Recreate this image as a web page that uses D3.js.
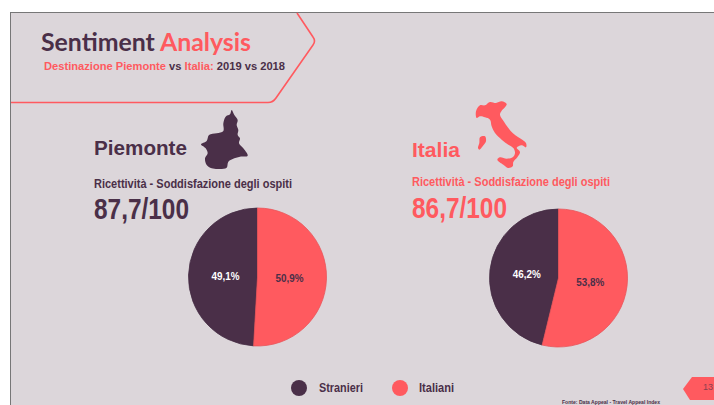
<!DOCTYPE html>
<html>
<head>
<meta charset="utf-8">
<script src="https://cdn.jsdelivr.net/npm/d3@7"></script>
<style>
  html, body { margin: 0; padding: 0; background: #fff; overflow: hidden; }
  text { font-family: "Liberation Sans", Arial, sans-serif; font-weight: bold; }
</style>
</head>
<body>
<script>
var categories = ["Stranieri", "Italiani"];
var piemonteValues = [49.1, 50.9];
var italiaValues = [46.2, 53.8];
var piemonteScore = "87,7/100";
var italiaScore = "86,7/100";

var dark = "#4a2f48", coral = "#ff5a5f", paper = "#dcd6da";
var color = d3.scaleOrdinal().domain(categories).range([dark, coral]);

var width = 714, height = 405;
var svg = d3.select("body").append("svg")
    .attr("width", width)
    .attr("height", height)
    .style("display", "block");

///////// slide background and header

svg.append("rect")
    .attr("x", 10.5).attr("y", 12.5)
    .attr("width", width).attr("height", height)
    .attr("fill", paper)
    .attr("stroke", "#777");

svg.append("path")
    .attr("d", "M11,102.5 L268,102.5 Q273,102.5 276,98 L313,45 Q316,41 313,37 L297,13")
    .attr("fill", "none")
    .attr("stroke", coral)
    .attr("stroke-width", 1.6);

var title = svg.append("text")
    .attr("x", 41).attr("y", 51)
    .attr("font-size", 24)
    .style("font-family", "Lato, sans-serif")
    .attr("textLength", 210)
    .attr("lengthAdjust", "spacingAndGlyphs");
title.append("tspan").attr("fill", dark).text("Sentiment ");
title.append("tspan").attr("fill", coral).text("Analysis");

var sub = svg.append("text")
    .attr("x", 44).attr("y", 70)
    .attr("font-size", 10.5)
    .attr("textLength", 241)
    .attr("lengthAdjust", "spacingAndGlyphs");
sub.append("tspan").attr("fill", coral).text("Destinazione Piemonte");
sub.append("tspan").attr("fill", dark).text(" vs ");
sub.append("tspan").attr("fill", coral).text("Italia:");
sub.append("tspan").attr("fill", dark).text(" 2019 vs 2018");

///////// region silhouettes, traced at 3x and scaled back down

var outline = d3.line().curve(d3.curveCatmullRomClosed.alpha(0.5));

var piemonteShape = [[110,15],[118,30],[128,45],[125,60],[130,75],[128,90],[135,100],[132,115],[145,130],[158,152],
  [135,155],[118,160],[100,170],[95,188],[75,192],[50,190],[35,180],[30,160],[38,145],[32,130],[18,118],[35,108],
  [42,90],[65,85],[85,78],[85,55],[92,35],[105,28]];
var italyShape = [[18,40],[30,22],[45,22],[60,12],[78,15],[95,10],[110,18],[105,28],[95,38],[90,50],[100,68],[115,90],
  [128,105],[145,118],[168,135],[168,148],[155,142],[140,150],[150,162],[142,178],[130,192],[128,205],[115,210],
  [100,200],[82,185],[90,178],[110,182],[128,178],[135,165],[130,150],[115,140],[95,125],[75,105],[65,85],[60,65],
  [45,58],[30,55],[20,60]];
var sardiniaShape = [[30,118],[45,115],[48,130],[38,145],[28,155],[24,150],[28,135]];

svg.append("path")
    .attr("d", outline(piemonteShape))
    .attr("transform", "translate(195,105) scale(" + 1 / 3 + ")")
    .attr("fill", dark);

[italyShape, sardiniaShape].forEach(function (s) {
  svg.append("path")
      .attr("d", outline(s))
      .attr("transform", "translate(470,98) scale(" + 1 / 3 + ")")
      .attr("fill", coral);
});

///////// one panel per destination

var pie = d3.pie().sort(null);
var arc = d3.arc().innerRadius(0).outerRadius(69);
var labelArc = d3.arc().innerRadius(32).outerRadius(32);

function panel(name, nameWidth, nameY, values, score, tx, cx, cy, subY, scoreY, textColor) {
  svg.append("text").attr("x", tx).attr("y", nameY)
      .attr("font-size", 21).attr("fill", textColor)
      .attr("textLength", nameWidth).attr("lengthAdjust", "spacingAndGlyphs")
      .text(name);

  svg.append("text").attr("x", tx).attr("y", subY)
      .attr("font-size", 12).attr("fill", textColor)
      .attr("textLength", 198).attr("lengthAdjust", "spacingAndGlyphs")
      .text("Ricettività - Soddisfazione degli ospiti");

  svg.append("text").attr("x", tx).attr("y", scoreY)
      .attr("font-size", 30).attr("fill", textColor)
      .attr("textLength", 95).attr("lengthAdjust", "spacingAndGlyphs")
      .text(score);

  // Italiani starts at 12 o'clock going clockwise, Stranieri closes the circle
  var start = 2 * Math.PI * values[1] / d3.sum(values);
  var slices = pie.startAngle(start).endAngle(start + 2 * Math.PI)(values);
  var g = svg.append("g").attr("transform", "translate(" + cx + "," + cy + ")");

  g.selectAll("path")
      .data(slices)
    .enter().append("path")
      .attr("d", arc)
      .attr("fill", function (d, i) { return color(categories[i]); })
      .attr("stroke", function (d, i) { return i === 0 ? "#452c44" : "#ea5459"; })
      .attr("stroke-width", 0.8);

  g.selectAll("text")
      .data(slices)
    .enter().append("text")
      .attr("transform", function (d) { return "translate(" + labelArc.centroid(d) + ")"; })
      .attr("dy", ".35em")
      .attr("text-anchor", "middle")
      .attr("font-size", 11)
      .attr("fill", function (d, i) { return i === 0 ? "#fff" : dark; })
      .attr("textLength", 28)
      .attr("lengthAdjust", "spacingAndGlyphs")
      .text(function (d) { return String(d.value).replace(".", ",") + "%"; });
}

panel("Piemonte", 93, 155, piemonteValues, piemonteScore, 94, 257.5, 277, 188, 218.5, dark);
panel("Italia", 48, 157, italiaValues, italiaScore, 412, 558.5, 278, 186, 217.5, coral);

///////// legend

var legend = svg.selectAll(".legend")
    .data(categories)
  .enter().append("g")
    .attr("class", "legend")
    .attr("transform", function (d, i) { return "translate(" + (299 + i * 101) + ",388)"; });

legend.append("circle").attr("r", 8).attr("fill", color);

legend.append("text")
    .attr("x", function (d, i) { return i === 0 ? 20 : 19; })
    .attr("dy", ".35em")
    .attr("font-size", 12.5)
    .attr("fill", dark)
    .attr("textLength", function (d, i) { return i === 0 ? 44 : 35; })
    .attr("lengthAdjust", "spacingAndGlyphs")
    .text(function (d) { return d; });

///////// page tag and source

svg.append("path")
    .attr("d", "M714,377 L692,377 L683,389 L690,400 L714,400 Z")
    .attr("fill", coral);

svg.append("text")
    .attr("x", 703).attr("y", 390)
    .attr("font-size", 9)
    .attr("fill", "#8a3f50")
    .style("font-weight", "normal")
    .text("13");

svg.append("text")
    .attr("x", 562).attr("y", 403.5)
    .attr("font-size", 5)
    .attr("fill", dark)
    .attr("textLength", 98)
    .attr("lengthAdjust", "spacingAndGlyphs")
    .text("Fonte: Data Appeal - Travel Appeal Index");
</script>
</body>
</html>
